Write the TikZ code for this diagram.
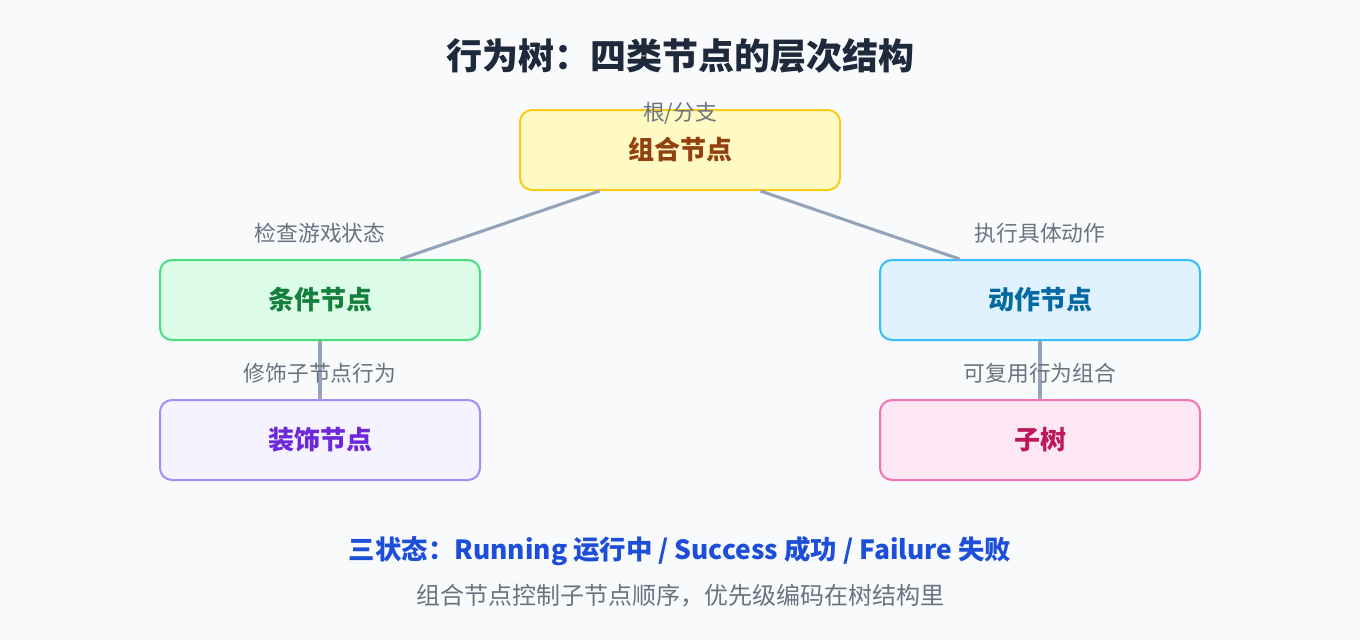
\documentclass[tikz,border=0pt]{standalone}
\usepackage{fontspec}
\setmainfont{Noto Sans CJK SC}
\usepackage{xcolor}
\usetikzlibrary{positioning, calc}
\definecolor{bgc}{HTML}{F8FAFC}
\definecolor{titlec}{HTML}{1E293B}
\definecolor{linec}{HTML}{94A3B8}
\definecolor{grayc}{HTML}{6B7280}
\definecolor{bluec}{HTML}{1D4ED8}
\definecolor{comboF}{HTML}{FFF9C4}\definecolor{comboD}{HTML}{FACC15}\definecolor{comboT}{HTML}{92400E}
\definecolor{condF}{HTML}{DCFCE7}\definecolor{condD}{HTML}{4ADE80}\definecolor{condT}{HTML}{15803D}
\definecolor{actF}{HTML}{E0F2FE}\definecolor{actD}{HTML}{38BDF8}\definecolor{actT}{HTML}{0369A1}
\definecolor{decF}{HTML}{F5F3FF}\definecolor{decD}{HTML}{A78BFA}\definecolor{decT}{HTML}{6D28D9}
\definecolor{subF}{HTML}{FCE7F3}\definecolor{subD}{HTML}{F472B6}\definecolor{subT}{HTML}{BE185D}
\begin{document}
\begin{tikzpicture}[x=0.75pt, y=-0.75pt,
    box/.style={draw, line width=1.5pt, rounded corners=9pt, minimum width=240pt, minimum height=60pt, align=center, font=\fontsize{19.5}{23}\selectfont\bfseries},
    note/.style={text=grayc, font=\fontsize{16.3}{19}\selectfont},
    link/.style={draw=linec, line width=2.3pt}
]
    \fill[bgc] (0,0) rectangle (1360,640);
    % Title
    \node[text=titlec, font=\fontsize{27}{32}\selectfont\bfseries] (title) at (680,56) {行为树：四类节点的层次结构};

    % Nodes
    \node[box, fill=comboF, draw=comboD, text=comboT] (combo) at (680,150) {组合节点};
    \node[box, fill=condF, draw=condD, text=condT] (cond) at (320,300) {条件节点};
    \node[box, fill=actF, draw=actD, text=actT] (action) at (1040,300) {动作节点};
    \node[box, fill=decF, draw=decD, text=decT] (decor) at (320,440) {装饰节点};
    \node[box, fill=subF, draw=subD, text=subT] (subtree) at (1040,440) {子树};

    % Links
    \draw[link] ($(combo.south west)!0.25!(combo.south east)$) -- ($(cond.north west)!0.75!(cond.north east)$);
    \draw[link] ($(combo.south west)!0.75!(combo.south east)$) -- ($(action.north west)!0.25!(action.north east)$);
    \draw[link] (cond) -- (decor);
    \draw[link] (action) -- (subtree);

    % Labels
    \node[note] (lroot) at (680,113) {根/分支};
    \node[note] (lcond) at (320,233) {检查游戏状态};
    \node[note] (lact) at (1040,233) {执行具体动作};
    \node[note] (ldec) at (320,373) {修饰子节点行为};
    \node[note] (lsub) at (1040,373) {可复用行为组合};

    % Footer
    \node[text=bluec, font=\fontsize{19.8}{24}\selectfont\bfseries] (states) at (680,551) {三状态：Running 运行中 / Success 成功 / Failure 失败};
    \node[text=grayc, font=\fontsize{18}{22}\selectfont] (foot) at (680,596) {组合节点控制子节点顺序，优先级编码在树结构里};
\end{tikzpicture}
\end{document}
